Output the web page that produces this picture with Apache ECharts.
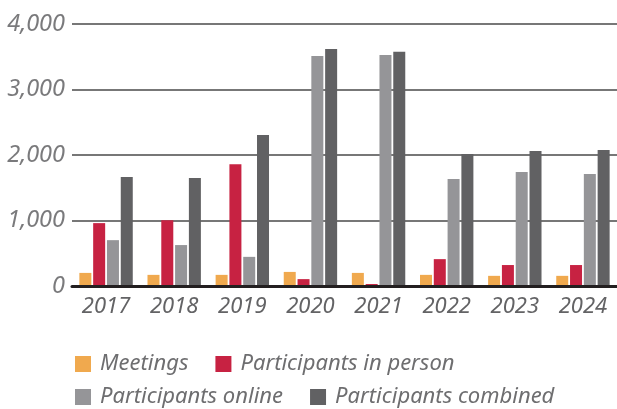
<!DOCTYPE html>
<html>
<head>
<meta charset="utf-8">
<script src="https://cdn.jsdelivr.net/npm/echarts@6/dist/echarts.min.js"></script>
<style>
  html, body { margin: 0; padding: 0; background: #fff; }
  #chart { width: 617px; height: 409px; }
</style>
</head>
<body>
<div id="chart"></div>
<script>
const years = ['2017', '2018', '2019', '2020', '2021', '2022', '2023', '2024'];
const meetings = [200, 170, 170, 215, 200, 170, 155, 155];
const inPerson = [960, 1005, 1860, 105, 30, 410, 320, 320];
const online = [700, 625, 445, 3510, 3525, 1635, 1740, 1710];
const combined = [1665, 1650, 2305, 3620, 3575, 2015, 2060, 2075];
const yTicks = [0, 1000, 2000, 3000, 4000];

const FONT = 'Noto Sans';
const colors = ['#f0a94e', '#c72242', '#959598', '#616163'];

const chart = echarts.init(document.getElementById('chart'));

function bar(name, data, color) {
  return {
    name: name,
    type: 'bar',
    data: data,
    barWidth: 12,
    barGap: '15%',
    itemStyle: { color: color },
    z: 3
  };
}

const legendText = {
  fontFamily: FONT,
  fontStyle: 'italic',
  fontSize: 22,
  color: '#6e6e70',
  padding: [0, 0, 0, 4]
};

chart.setOption({
  animation: false,
  backgroundColor: '#fff',
  grid: { left: 72, right: 0, top: 24, bottom: 123 },
  legend: [
    {
      data: ['Meetings', 'Participants in person'],
      left: 75, top: 353, padding: 0,
      itemWidth: 16, itemHeight: 16, itemGap: 27,
      icon: 'rect',
      textStyle: legendText
    },
    {
      data: ['Participants online', 'Participants combined'],
      left: 75, top: 386, padding: 0,
      itemWidth: 16, itemHeight: 16, itemGap: 27,
      icon: 'rect',
      textStyle: legendText
    }
  ],
  xAxis: {
    type: 'category',
    data: years,
    axisTick: { show: false },
    axisLine: { lineStyle: { color: '#231f20', width: 3 } },
    axisLabel: {
      fontFamily: FONT, fontStyle: 'italic', fontSize: 22,
      color: '#636365', margin: 10
    },
    z: 5
  },
  yAxis: {
    type: 'value',
    min: 0, max: 4000, interval: 1000,
    axisLine: { show: false },
    axisTick: { show: false },
    splitLine: { lineStyle: { color: '#4a4a4a', width: 1.5 } },
    axisLabel: {
      fontFamily: FONT, fontStyle: 'italic', fontSize: 23.5,
      color: '#7a7a7c', margin: 7,
      formatter: v => yTicks.includes(v) ? v.toLocaleString('en-US') : ''
    }
  },
  series: [
    bar('Meetings', meetings, colors[0]),
    bar('Participants in person', inPerson, colors[1]),
    bar('Participants online', online, colors[2]),
    bar('Participants combined', combined, colors[3])
  ]
});
</script>
</body>
</html>
